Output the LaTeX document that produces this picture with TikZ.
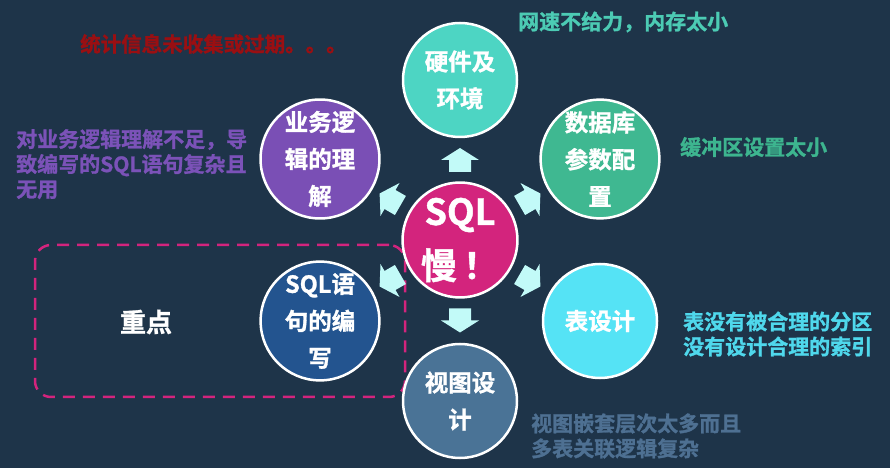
\documentclass[tikz,border=0pt]{standalone}
\usepackage{fontspec}
\setmainfont{Noto Sans CJK SC}[BoldFont={Noto Sans CJK SC Bold}, BoldFeatures={FakeBold=1.2}]
\usetikzlibrary{calc}
\definecolor{bgnavy}{HTML}{1E3449}
\definecolor{cmag}{HTML}{D3247D}
\definecolor{cmint}{HTML}{4DD5C3}
\definecolor{cgreen}{HTML}{3FB891}
\definecolor{cpurple}{HTML}{7A4FB5}
\definecolor{cblue}{HTML}{23548F}
\definecolor{ccyan}{HTML}{55E3F5}
\definecolor{cslate}{HTML}{4A7396}
\definecolor{arrowcol}{HTML}{C2FAF8}
\definecolor{noteRed}{HTML}{9A0F12}
\definecolor{noteMint}{HTML}{4CCBB4}
\definecolor{noteGreen}{HTML}{3DB58F}
\definecolor{notePurple}{HTML}{7B52B8}
\definecolor{noteCyan}{HTML}{4FD8EC}
\definecolor{noteSlate}{HTML}{4E7092}
\tikzset{
  topic/.style={circle, draw=white, line width=2.5pt, minimum size=114pt,
    inner sep=0pt, text=white, font=\bfseries\fontsize{23.5}{37}\selectfont,
    align=center},
  note/.style={font=\bfseries\fontsize{21}{25}\selectfont, align=left,
    inner sep=0pt, anchor=west},
  blockarrow/.style={fill=arrowcol}
}
\begin{document}
\begin{tikzpicture}[x=1pt,y=1pt]
  \fill[bgnavy] (0,0) rectangle (890,468);
  \useasboundingbox (0,0) rectangle (890,468);

  % focus frame around the SQL-writing topic
  \node (focus) [draw=cmag, line width=2.5pt, dash pattern=on 12pt off 8pt,
    rounded corners=16pt, minimum width=370pt, minimum height=152pt]
    at (220,147) {};
  \node (key) [text=white, font=\bfseries\fontsize{26}{30}\selectfont]
    at (146,146) {重点};

  % central problem and its six causes
  \node (c) [topic, fill=cmag, font=\bfseries\fontsize{36}{56}\selectfont]
    at (460,228) {SQL\\[-2pt]慢\,！};
  \node (hw) [topic, fill=cmint] at (460,388) {硬件及\\环境};
  \node (db) [topic, fill=cgreen] at (600,309) {数据库\\参数配\\置};
  \node (biz) [topic, fill=cpurple] at (320,309) {业务逻\\辑的理\\解};
  \node (sql) [topic, fill=cblue] at (320,147) {SQL语\\句的编\\写};
  \node (tbl) [topic, fill=ccyan] at (600,147) {表设计};
  \node (view) [topic, fill=cslate] at (460,67) {视图设\\计};

  % outward block arrows between the centre and each cause
  \foreach \t/\ang in {hw/90, db/30, biz/150, sql/210, tbl/-30, view/-90} {
    \begin{scope}[shift={($(c)!0.5!(\t)$)}, rotate=\ang]
      \fill[blockarrow] (-12,-11) -- (0,-11) -- (0,-19) -- (12,0)
        -- (0,19) -- (0,11) -- (-12,11) -- cycle;
    \end{scope}
  }

  % explanatory notes
  \node (n1) [note, text=noteRed, font=\bfseries\fontsize{20.5}{24}\selectfont]
    at (80,424) {统计信息未收集或过期。。。};
  \node (n2) [note, text=noteMint] at (518,446) {网速不给力，内存太小};
  \node (n3) [note, text=noteGreen] at (680,321) {缓冲区设置太小};
  \node (n4) [note, text=notePurple, anchor=north west] at (16,339)
    {对业务逻辑理解不足，导\\致编写的SQL语句复杂且\\无用};
  \node (n5) [note, text=noteCyan] at (683,134)
    {表没有被合理的分区\\没有设计合理的索引};
  \node (n6) [note, text=noteSlate] at (531,32)
    {视图嵌套层次太多而且\\多表关联逻辑复杂};
\end{tikzpicture}
\end{document}
